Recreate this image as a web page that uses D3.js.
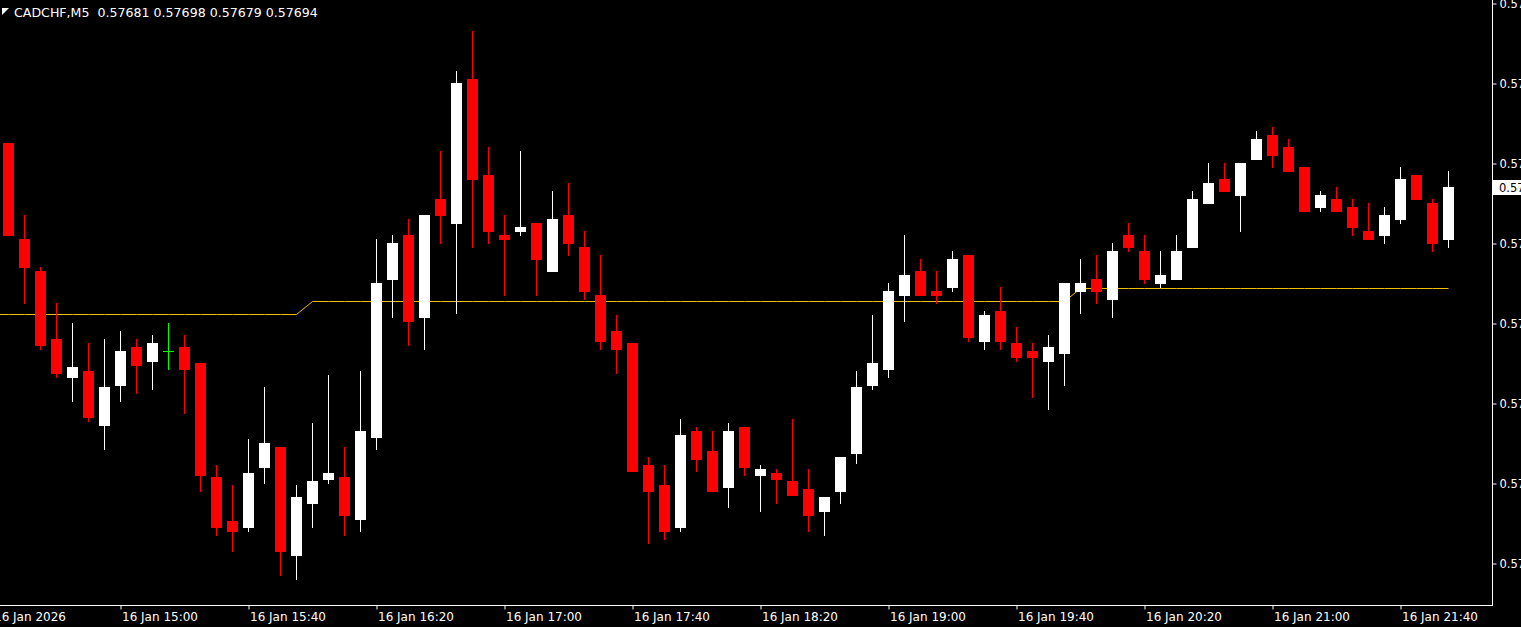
<!DOCTYPE html>
<html><head><meta charset="utf-8">
<script src="https://cdn.jsdelivr.net/npm/d3@7"></script>
<style>html,body{margin:0;padding:0;background:#000;overflow:hidden}svg{display:block}</style>
</head><body>
<svg id="chart" width="1521" height="627"></svg>
<script>
// ---------- data ----------
const symbolTitle = "CADCHF,M5";
const lastQuote = ["0.57681", "0.57698", "0.57679", "0.57694"];
const firstBarTime = "2026-01-16T14:25:00";
const barMinutes = 5;

const open = [0.57705,0.57681,0.57673,0.57656,0.576465,0.57648,0.576345,0.576445,0.57654,0.576505,
0.57653,0.57654,0.57650,0.576215,0.576105,0.57609,0.57624,0.57629,0.57602,0.57615,
0.57621,0.576215,0.57611,0.576315,0.57671,0.57682,0.576615,0.57691,0.57685,0.57721,
0.57697,0.57682,0.57683,0.57685,0.57673,0.57687,0.57679,0.57667,0.57658,0.57655,
0.576245,0.576195,0.57609,0.57633,0.57628,0.57619,0.57634,0.57622,0.576225,0.576205,
0.576185,0.57613,0.57618,0.576275,0.576445,0.576485,0.57667,0.57673,0.57668,0.57669,
0.57677,0.576555,0.57663,0.57655,0.57653,0.576505,0.576525,0.57668,0.57671,0.57666,
0.57682,0.57678,0.57670,0.57671,0.57679,0.57690,0.57696,0.57692,0.57701,0.57707,
0.57704,0.57699,0.57689,0.57691,0.57689,0.57683,0.57682,0.57686,0.57697,0.57690,0.57681];

const high = [0.57705,0.57687,0.57674,0.57665,0.57660,0.57655,0.57656,0.57658,0.57656,0.57657,
0.57660,0.57657,0.57650,0.576245,0.576195,0.57631,0.57644,0.57629,0.576195,0.57635,
0.57647,0.57629,0.57648,0.57681,0.57682,0.57686,0.57687,0.57703,0.57723,0.57733,
0.57704,0.57687,0.57703,0.57685,0.57693,0.57695,0.57683,0.57677,0.57662,0.57655,
0.576265,0.576245,0.57636,0.57634,0.57633,0.57635,0.57634,0.576245,0.576235,0.57636,
0.576235,0.576165,0.576265,0.57648,0.57662,0.57670,0.57682,0.57676,0.57673,0.57678,
0.57677,0.57663,0.57669,0.57659,0.57655,0.57657,0.57670,0.57676,0.57677,0.57680,
0.57685,0.57682,0.57678,0.57682,0.57693,0.57700,0.57700,0.57700,0.57708,0.57709,
0.57706,0.57699,0.57693,0.57694,0.57691,0.57690,0.57689,0.57699,0.57697,0.57691,0.57698];

const low = [0.57682,0.57665,0.576535,0.576465,0.576405,0.576355,0.576285,0.576405,0.576425,0.576435,
0.576485,0.576375,0.57618,0.57607,0.57603,0.57608,0.57620,0.57597,0.57596,0.57609,
0.57620,0.57607,0.57608,0.576285,0.576615,0.576545,0.576535,0.57680,0.576625,0.57679,
0.57680,0.57667,0.57682,0.57667,0.57673,0.57677,0.57666,0.576535,0.576475,0.57623,
0.57605,0.57606,0.57608,0.57623,0.57618,0.57614,0.57622,0.57613,0.57615,0.57617,
0.57608,0.57607,0.57615,0.57625,0.576435,0.576465,0.576605,0.57667,0.57665,0.57668,
0.576555,0.576535,0.576535,0.576505,0.576415,0.576385,0.576445,0.576625,0.57665,0.576615,
0.57678,0.57670,0.57669,0.57671,0.57679,0.57690,0.57693,0.57683,0.57701,0.57699,
0.57698,0.57688,0.57688,0.57688,0.57682,0.57681,0.57680,0.57685,0.57691,0.57678,0.57679];

const close = [0.57682,0.57674,0.576545,0.576475,0.57649,0.576365,0.57644,0.57653,0.576495,0.57655,
0.57653,0.576485,0.57622,0.57609,0.57608,0.576225,0.57630,0.57603,0.576165,0.576205,
0.576225,0.57612,0.57633,0.57670,0.57680,0.576605,0.57687,0.57687,0.57720,0.57696,
0.57683,0.57681,0.57684,0.57676,0.57686,0.57680,0.57668,0.576555,0.576535,0.57623,
0.57618,0.57608,0.57632,0.57626,0.57618,0.57633,0.57624,0.576235,0.57621,0.57617,
0.57612,0.576165,0.576265,0.57644,0.57650,0.57668,0.57672,0.57667,0.57667,0.57676,
0.576565,0.57662,0.576555,0.576515,0.576515,0.57654,0.57670,0.57670,0.57668,0.57678,
0.57679,0.57671,0.57672,0.57678,0.57691,0.57695,0.57693,0.57700,0.57706,0.57702,
0.57698,0.57688,0.57692,0.57688,0.57684,0.57681,0.57687,0.57696,0.57691,0.57680,0.57694];

// yellow indicator line (one value per bar: 19 + 48 + 24 = 91)
const indicator = [
0.576621,0.576621,0.576621,0.576621,0.576621,0.576621,0.576621,0.576621,0.576621,0.576621,
0.576621,0.576621,0.576621,0.576621,0.576621,0.576621,0.576621,0.576621,0.576621,
0.576654,0.576654,0.576654,0.576654,0.576654,0.576654,0.576654,0.576654,0.576654,0.576654,
0.576654,0.576654,0.576654,0.576654,0.576654,0.576654,0.576654,0.576654,0.576654,0.576654,
0.576654,0.576654,0.576654,0.576654,0.576654,0.576654,0.576654,0.576654,0.576654,0.576654,
0.576654,0.576654,0.576654,0.576654,0.576654,0.576654,0.576654,0.576654,0.576654,0.576654,
0.576654,0.576654,0.576654,0.576654,0.576654,0.576654,0.576654,0.576654,
0.5766865,0.5766865,0.5766865,0.5766865,0.5766865,0.5766865,0.5766865,0.5766865,
0.5766865,0.5766865,0.5766865,0.5766865,0.5766865,0.5766865,0.5766865,0.5766865,
0.5766865,0.5766865,0.5766865,0.5766865,0.5766865,0.5766865,0.5766865,0.5766865];

const priceTicks = [0.5760, 0.5762, 0.5764, 0.5766, 0.5768, 0.5770, 0.5772, 0.5774];
const timeTicks = ["2026-01-16T14:20:00","2026-01-16T15:00:00","2026-01-16T15:40:00","2026-01-16T16:20:00",
"2026-01-16T17:00:00","2026-01-16T17:40:00","2026-01-16T18:20:00","2026-01-16T19:00:00",
"2026-01-16T19:40:00","2026-01-16T20:20:00","2026-01-16T21:00:00","2026-01-16T21:40:00"];

// ---------- colours / layout ----------
const W = 1521, H = 627;
const plotRight = 1492, plotBottom = 605;
const UP = "#ffffff", DOWN = "#ff0000", DOJI = "#00ff00", IND = "#f2c200";
const FONT = "'DejaVu Sans', sans-serif";

const svg = d3.select("#chart");
svg.append("rect").attr("width", W).attr("height", H).attr("fill", "#000");

const parse = d3.isoParse;
const t0 = parse(firstBarTime);
const bars = open.map((o, i) => ({
  t: d3.timeMinute.offset(t0, i * barMinutes),
  o, h: high[i], l: low[i], c: close[i], m: indicator[i]
}));

const x = d3.scaleTime()
  .domain([bars[0].t, bars[bars.length - 1].t])
  .range([8.5, 8.5 + 16 * (bars.length - 1)]);
const y = d3.scaleLinear().domain([0.5760, 0.5774]).range([563, 3]);

const plot = svg.append("g");
plot.append("clipPath").attr("id", "pc").append("rect")
  .attr("x", 0).attr("y", 0).attr("width", plotRight).attr("height", plotBottom);
const pg = plot.append("g").attr("clip-path", "url(#pc)");

// indicator line
const indData = [{ t: d3.timeMinute.offset(t0, -barMinutes), m: indicator[0] }].concat(bars);
pg.append("path")
  .datum(indData)
  .attr("fill", "none").attr("stroke", IND).attr("stroke-width", 1)
  .attr("d", d3.line().x(d => x(d.t)).y(d => Math.floor(y(d.m)) + 0.5));

// candles
const cg = pg.selectAll("g.candle").data(bars).join("g").attr("class", "candle");
cg.each(function (d) {
  const g = d3.select(this);
  const xc = x(d.t);
  const col = d.c > d.o ? UP : (d.c < d.o ? DOWN : DOJI);
  const yh = Math.round(y(d.h)), yl = Math.round(y(d.l));
  g.append("rect").attr("x", xc - 0.5).attr("y", yh).attr("width", 1)
    .attr("height", Math.max(1, yl - yh + 1)).attr("fill", col);
  const yt = Math.round(y(Math.max(d.o, d.c))), yb = Math.round(y(Math.min(d.o, d.c)));
  g.append("rect").attr("x", xc - 5.5).attr("y", yt).attr("width", 11)
    .attr("height", Math.max(1, yb - yt + 1)).attr("fill", col);
});

// borders
svg.append("rect").attr("x", 0).attr("y", plotBottom).attr("width", plotRight + 1).attr("height", 1).attr("fill", "#fff");
svg.append("rect").attr("x", plotRight).attr("y", 0).attr("width", 1).attr("height", plotBottom + 1).attr("fill", "#fff");

// price axis
const yAxis = d3.axisRight(y).tickValues(priceTicks).tickSize(4).tickPadding(3)
  .tickFormat(d3.format(".5f"));
const ya = svg.append("g").attr("transform", `translate(${plotRight + 0.5},0.5)`).call(yAxis);
ya.select(".domain").remove();
ya.selectAll("line").attr("stroke", "#fff");
ya.selectAll("text").attr("fill", "#fff").attr("font-family", FONT).attr("font-size", 11.5);

// current price label
const lastC = close[close.length - 1];
const yc = Math.round(y(lastC));
svg.append("rect").attr("x", plotRight + 1).attr("y", yc - 7).attr("width", W - plotRight).attr("height", 15).attr("fill", "#fff");
svg.append("text").attr("x", plotRight + 7).attr("y", yc + 4.5).attr("fill", "#000")
  .attr("font-family", FONT).attr("font-size", 11.5).text(d3.format(".5f")(lastC));

// time axis
const fmtDate = d3.timeFormat("%d %b %Y"), fmtTime = d3.timeFormat("%d %b %H:%M");
const tt = timeTicks.map(parse);
const xAxis = d3.axisBottom(x).tickValues(tt).tickSize(4).tickPadding(3)
  .tickFormat((d, i) => i === 0 ? fmtDate(d) : fmtTime(d));
const xa = svg.append("g").attr("transform", `translate(0,${plotBottom + 0.5})`).call(xAxis);
xa.select(".domain").remove();
xa.selectAll("line").attr("stroke", "#fff");
xa.selectAll("text").attr("fill", "#fff").attr("font-family", FONT).attr("font-size", 12)
  .attr("text-anchor", "start").attr("x", 1);

// title
svg.append("path").attr("d", "M2,8 L9,8 L2,15 Z").attr("fill", "#fff");
svg.append("text").attr("x", 14).attr("y", 17).attr("fill", "#fff")
  .attr("font-family", FONT).attr("font-size", 12.6).attr("xml:space", "preserve")
  .style("white-space", "pre")
  .text(symbolTitle + "  " + lastQuote.join(" "));
</script>
</body></html>
